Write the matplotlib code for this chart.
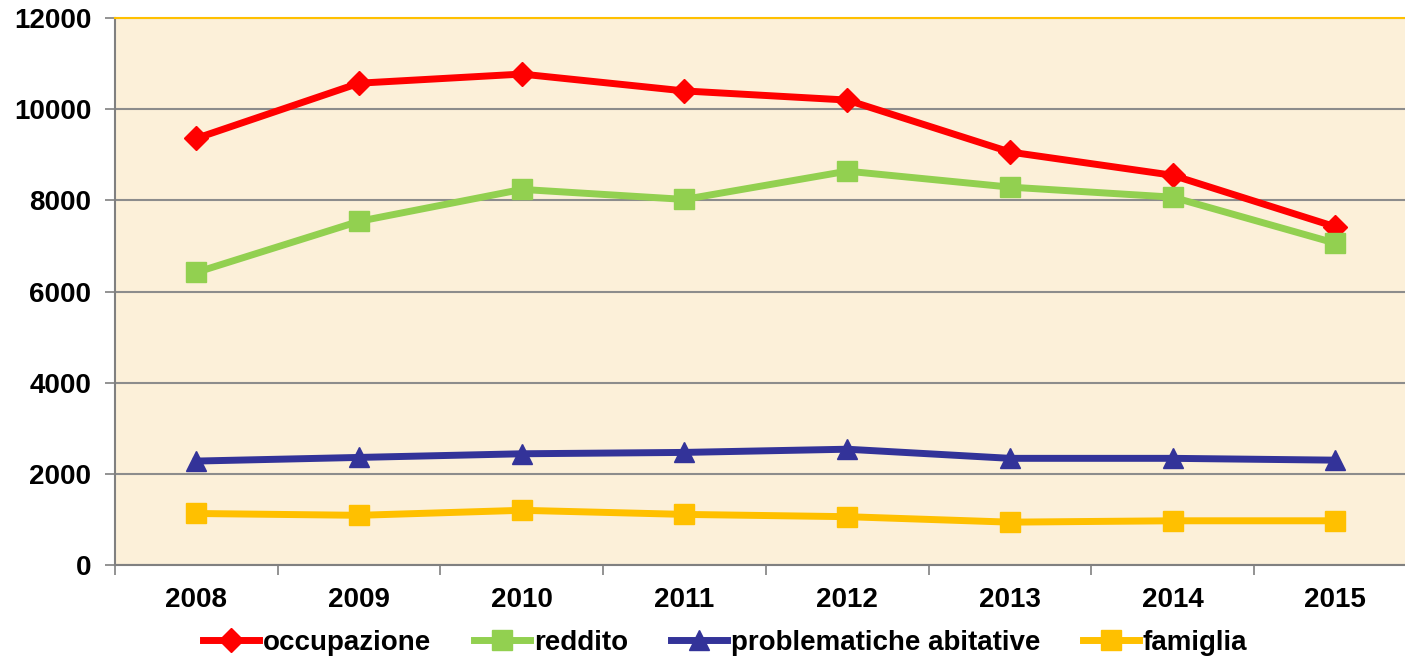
import matplotlib.pyplot as plt

anni = ['2008', '2009', '2010', '2011', '2012', '2013', '2014', '2015']
occupazione = [9360, 10570, 10770, 10400, 10200, 9060, 8550, 7420]
reddito = [6420, 7540, 8240, 8020, 8640, 8290, 8070, 7060]
problematiche_abitative = [2280, 2360, 2440, 2470, 2540, 2340, 2340, 2300]
famiglia = [1130, 1090, 1200, 1110, 1060, 940, 970, 970]

serie = [
    ('occupazione', occupazione, '#FF0000', 'D', 12),
    ('reddito', reddito, '#92D050', 's', 14),
    ('problematiche abitative', problematiche_abitative, '#333399', '^', 14),
    ('famiglia', famiglia, '#FFC000', 's', 14),
]

plt.rcParams['font.family'] = ['Liberation Sans', 'DejaVu Sans']
plt.rcParams['font.weight'] = 'bold'

fig = plt.figure(figsize=(14.05, 6.59), dpi=100)
ax = fig.add_axes([115 / 1405, 1 - 565 / 659, 1290 / 1405, 547 / 659])
ax.set_facecolor('#FCF0D9')

x = list(range(len(anni)))
for nome, valori, colore, marker, ms in serie:
    ax.plot(x, valori, color=colore, lw=5, marker=marker, markersize=ms,
            label=nome, zorder=3)

ax.set_yticks(range(0, 12001, 2000))
ax.set_xticks(x)
ax.set_xticklabels(anni)
ax.set_xticks([i - 0.5 for i in range(len(anni) + 1)], minor=True)
# limiti dopo i tick, altrimenti set_xticks allarga la vista
ax.set_ylim(0, 12000)
ax.set_xlim(-0.5, -0.5 + 1290 / 162.7)
ax.tick_params(axis='x', which='major', length=0, pad=16, labelsize=20)
ax.tick_params(axis='x', which='minor', length=7, color='#808080', width=1.2)
ax.tick_params(axis='y', length=7, color='#808080', width=1.2, labelsize=20, pad=10)
ax.grid(axis='y', color='#8C8C8C', lw=1.5, zorder=1)

for s in ['left', 'bottom']:
    ax.spines[s].set_color('#808080')
    ax.spines[s].set_linewidth(1.5)
ax.spines['top'].set_color('#FFC000')
ax.spines['top'].set_linewidth(1.5)
ax.spines['right'].set_visible(False)

ax.legend(loc='center', bbox_to_anchor=(0.473, -0.143),
          ncol=4, frameon=False, fontsize=20, handlelength=2.0,
          handletextpad=0.15, columnspacing=1.55)

fig.savefig('out.png', dpi=100)
